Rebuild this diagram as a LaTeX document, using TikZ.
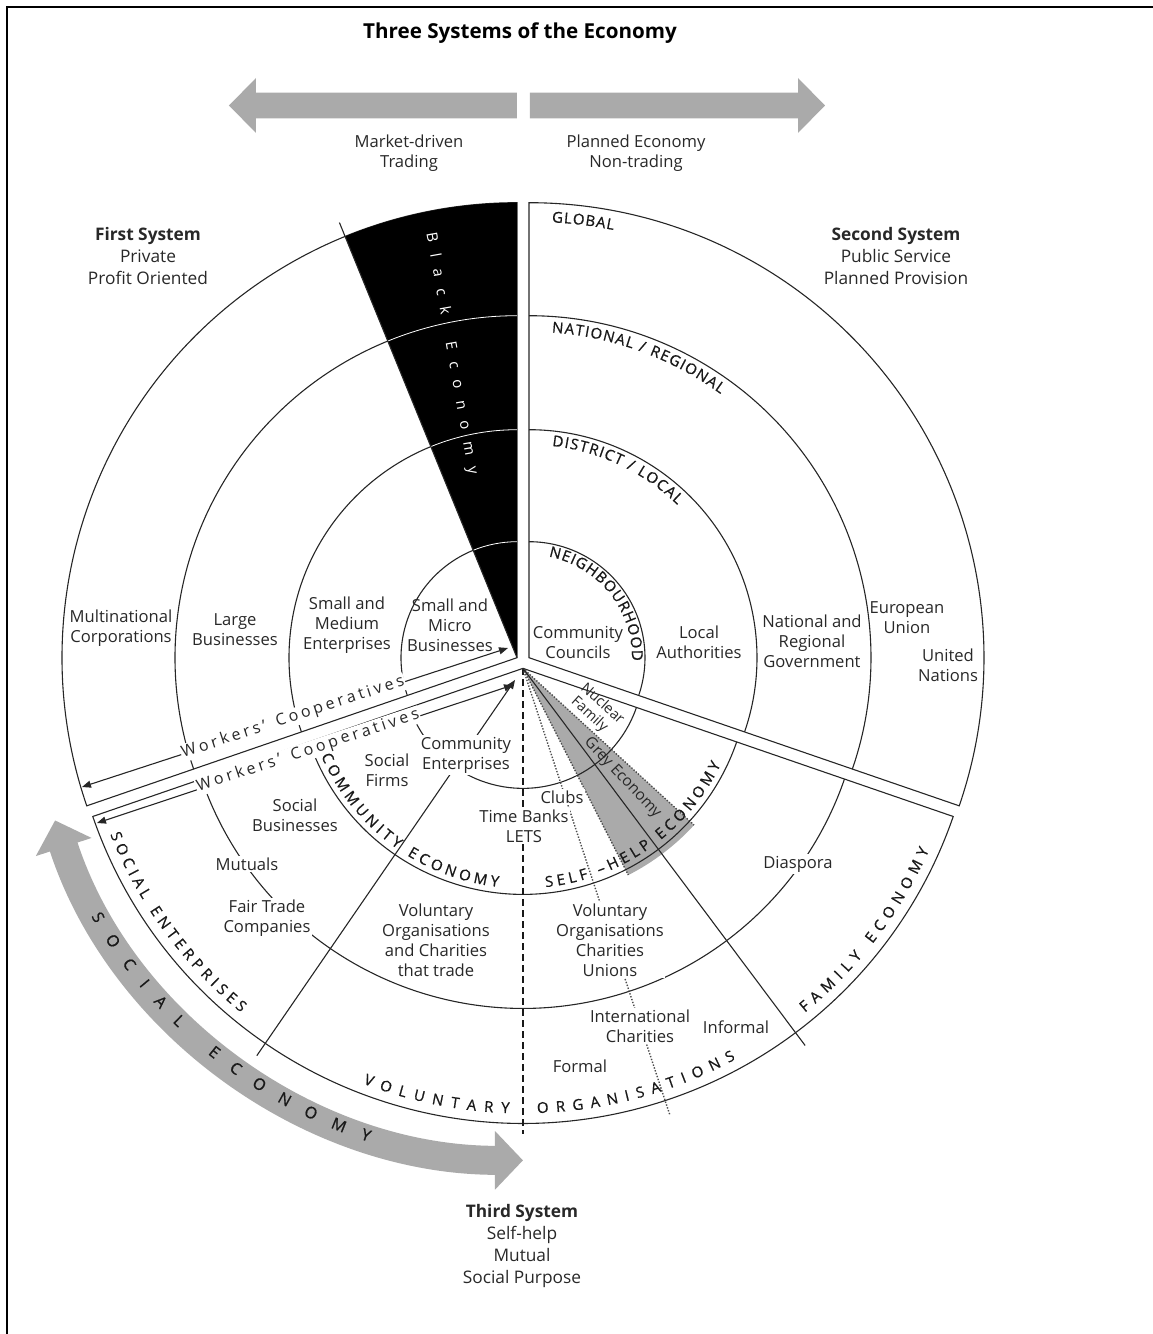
\documentclass[tikz,border=0pt]{standalone}
\usepackage{fontspec}
\setmainfont{Open Sans}
\usetikzlibrary{arrows.meta,calc}
\definecolor{ag}{RGB}{170,170,170}
\definecolor{txt}{RGB}{40,40,40}
\def\arcsize{15}
\def\arcfont{\fontsize{\arcsize}{\arcsize}\selectfont\addfontfeature{FakeBold=0.7}}
\def\spch{\relax}
\def\slch{/}
% curved letter-by-letter text: #1 centre, #2 baseline radius, #3 angle, #4 dir (1 ccw, -1 cw), #5 tracking, #6 align (0 start, 0.5 centre), #7 letter/width(em) list
\newcommand\arctext[7]{%
  \gdef\ctsum{0}%
  \foreach \ch/\cw in {#7}{%
    \pgfmathsetmacro\ctnew{\ctsum+\cw*\arcsize+#5}%
    \xdef\ctsum{\ctnew}%
  }%
  \pgfmathsetmacro\ctstart{#3-(#4)*#6*(\ctsum-#5)/#2*57.29578}%
  \gdef\ctpos{0}%
  \foreach \ch/\cw in {#7}{%
    \pgfmathsetmacro\ctang{\ctstart+(#4)*(\ctpos+0.5*\cw*\arcsize)/#2*57.29578}%
    \pgfmathsetmacro\ctrot{\ctang+(#4)*90}%
    \pgfmathsetmacro\ctnew{\ctpos+\cw*\arcsize+#5}%
    \xdef\ctpos{\ctnew}%
    \node[font=\arcfont,text=black!90,anchor=base,rotate=\ctrot,inner sep=0pt] at ($(#1)+(\ctang:#2pt)$) {\ch};
  }%
}
% straight tracked text
\def\trk#1{\def\trkamt{#1}\trkx}
\def\trkx#1{\ifx#1\relax\unkern\else#1\kern\trkamt\relax\expandafter\trkx\fi}
\tikzset{
  ln/.style={line width=1.1pt, draw=black!85},
  lab/.style={font=\fontsize{16.6}{20}\selectfont, align=center, text=txt, inner sep=1.5pt},
  labf/.style={lab, fill=white},
  hdr/.style={font=\fontsize{17.3}{21.7}\selectfont, align=center, text=txt},
  dotl/.style={line width=1.4pt, draw=black!70, dash pattern=on 1.4pt off 1.6pt},
  dashl/.style={line width=2.4pt, draw=black!90, dash pattern=on 7pt off 4pt},
  wkr/.style={font=\fontsize{16}{16}\selectfont, text=txt, fill=white, inner sep=1pt},
  rot/.style={font=\fontsize{14.5}{16.5}\selectfont, text=txt, inner sep=0.5pt},
}
\begin{document}
\begin{tikzpicture}[x=1pt,y=1pt]
\useasboundingbox (-523,-672) rectangle (630,662);
\draw[line width=2.2pt] (-516,-672) -- (-516,655) -- (630,655);

% title
\node[font=\fontsize{20.6}{24}\selectfont\bfseries] (title) at (-3,628.7) {Three Systems of the Economy};

% top arrows
\fill[ag] (-294,556.5) -- (-267,584) -- (-267,569.3) -- (-6,569.3) -- (-6,543.7) -- (-267,543.7) -- (-267,529) -- cycle;
\fill[ag] (302,556.5) -- (275,584) -- (275,569.3) -- (7,569.3) -- (7,543.7) -- (275,543.7) -- (275,529) -- cycle;
\node[lab] (mkt) at (-114,508.5) {Market-driven\\Trading};
\node[lab] (pln) at (113,508.5) {Planned Economy\\Non-trading};

% system headers
\node[hdr] (s1) at (-375,406) {\textbf{First System}\\Private\\Profit Oriented};
\node[hdr] (s2) at (373,406) {\textbf{Second System}\\Public Service\\Planned Provision};
\node[hdr] (s3) at (-1,-584) {\textbf{Third System}\\Self-help\\Mutual\\Social Purpose};

% sector apexes
\coordinate (A1) at (-6.0,4.3);
\coordinate (A2) at (6.0,4.3);
\coordinate (A3) at (0,-6.35);

% grey wedge (third sector)
\fill[ag] (A3) -- ($(A3)+(-63:232pt)$) arc[start angle=-63,end angle=-42.5,radius=232pt] -- cycle;
\draw[dotl] (A3) -- ($(A3)+(-63:232pt)$);
\draw[dotl] (A3) -- ($(A3)+(-42.5:232pt)$);

% sector 1
\draw[ln] (A1) -- ($(A1)+(90:455pt)$) arc[start angle=90,end angle=199,radius=455pt] -- cycle;
\foreach \r in {116,228,342} \draw[ln] ($(A1)+(90:\r pt)$) arc[start angle=90,end angle=199,radius=\r pt];
% black economy wedge
\fill[black] (A1) -- ($(A1)+(90:455pt)$) arc[start angle=90,end angle=112.2,radius=455pt] -- cycle;
\foreach \r in {116,228,342} \draw[white,line width=0.8pt] ($(A1)+(90:\r pt)$) arc[start angle=90,end angle=112.2,radius=\r pt];
\coordinate (bkend) at ($(A1)+(112.2:470pt)$);
\draw[ln] (A1) -- (bkend);
\node[font=\fontsize{15}{15}\selectfont, text=white, rotate=-80] (blk) at (-71.5,308.5) {\trk{11.7pt}Black\ Economy\relax};

% sector 2
\draw[ln] (A2) -- ($(A2)+(90:455pt)$) arc[start angle=90,end angle=-19,radius=455pt] -- cycle;
\foreach \r in {116,228,342} \draw[ln] ($(A2)+(90:\r pt)$) arc[start angle=90,end angle=-19,radius=\r pt];

% sector 3
\draw[ln] (A3) -- ($(A3)+(199:455pt)$) arc[start angle=199,end angle=341,radius=455pt] -- cycle;
\foreach \r in {120,226,340} \draw[ln] ($(A3)+(199:\r pt)$) arc[start angle=199,end angle=341,radius=\r pt];

% radial lines in sector 3
\coordinate (dashend) at ($(A3)+(270:466pt)$);
\coordinate (dotend) at ($(A3)+(-71.8:470pt)$);
\coordinate (solend) at ($(A3)+(-53.2:471pt)$);
\coordinate (ceout) at ($(A3)+(235.5:470pt)$);
\coordinate (cein) at ($(A3)+(235.5:14pt)$);
\draw[dashl] (A3) -- (dashend);
\draw[dotl] (A3) -- (dotend);
\draw[ln] (A3) -- (solend);
\draw[ln,-{Triangle[length=9pt,width=7pt]}] (ceout) -- (cein);

% workers' cooperatives arrows
\coordinate (w1a) at (-15,14);
\coordinate (w1b) at (-441,-125);
\coordinate (w2a) at (-10,-23);
\coordinate (w2b) at (-426,-161);
\draw[ln,{Triangle[length=9pt,width=7pt]}-{Triangle[length=9pt,width=7pt]}] (w1b) -- (w1a);
\draw[ln,{Triangle[length=9pt,width=7pt]}-{Triangle[length=9pt,width=7pt]}] (w2b) -- (w2a);
\node[wkr, rotate=18.1] (wk1) at (-230,-55.5) {\trk{3.3pt}Workers'\ Cooperatives\relax};
\node[wkr, rotate=18.35] (wk2) at (-215,-89) {\trk{3.3pt}Workers'\ Cooperatives\relax};

% social economy arrow
\draw[ag, line width=29pt, {Triangle[length=28pt,width=57pt]}-{Triangle[length=28pt,width=57pt]}] ($(A3)+(198:492pt)$) arc[start angle=198,end angle=270,radius=492pt];

% labels sector 1
\node[lab] (mnc) at (-402,34) {Multinational\\Corporations};
\node[lab] (lb) at (-288,32) {Large\\Businesses};
\node[lab] (sme) at (-176,37) {Small and\\Medium\\Enterprises};
\node[lab] (smb) at (-73,37) {Small and\\Micro\\Businesses};

% labels sector 2
\node[lab] (cc) at (55,20) {Community\\Councils};
\node[lab] (la) at (176,20) {Local\\Authorities};
\node[lab] (nrg) at (289,21) {National and\\Regional\\Government};
\node[lab] (eu) at (384,44) {European\\Union};
\node[lab] (un) at (425,-3) {United\\Nations};

% labels sector 3
\node[rot, rotate=-42] (nuc1) at (80.3,-41) {Nuclear};
\node[rot, rotate=-42] (nuc2) at (66.3,-52.5) {Family};
\node[font=\fontsize{15.5}{18}\selectfont, text=txt, rotate=-46.5] (grey) at (99.5,-116) {Grey Economy};
\node[labf] (clubs) at (39,-135) {Clubs};
\node[labf] (tb) at (1,-164) {Time Banks\\LETS};
\node[lab] (sf) at (-136,-108) {Social\\Firms};
\node[labf] (ce) at (-57,-93) {Community\\Enterprises};
\node[lab] (sb) at (-228,-153) {Social\\Businesses};
\node[labf] (mut) at (-276,-202) {Mutuals};
\node[labf] (ftc) at (-256,-256) {Fair Trade\\Companies};
\node[lab] (voc) at (-87,-278) {Voluntary\\Organisations\\and Charities\\that trade};
\node[labf] (vou) at (87,-278) {Voluntary\\Organisations\\Charities\\Unions};
\node[labf] (ic) at (117,-364) {International\\Charities};
\node[lab] (inf) at (213,-365) {Informal};
\node[lab] (frm) at (57,-404) {Formal};
\node[labf] (dia) at (275,-202) {Diaspora};

% curved texts, sector 2
\arctext{A2}{436}{87}{-1}{0.9}{0}{G/0.728,L/0.528,O/0.781,B/0.648,A/0.633,L/0.528}
\arctext{A2}{326}{86}{-1}{1.2}{0}{N/0.756,A/0.633,T/0.56,I/0.279,O/0.781,N/0.756,A/0.633,L/0.528,\spch/0.26,\slch/0.367,\spch/0.26,R/0.633,E/0.556,G/0.728,I/0.279,O/0.781,N/0.756,A/0.633,L/0.528}
\arctext{A2}{213}{83.8}{-1}{1.2}{0}{D/0.729,I/0.279,S/0.556,T/0.56,R/0.633,I/0.279,C/0.631,T/0.56,\spch/0.26,\slch/0.367,\spch/0.26,L/0.528,O/0.781,C/0.631,A/0.633,L/0.528}
\arctext{A2}{103}{79}{-1}{1.0}{0}{N/0.756,E/0.556,I/0.279,G/0.728,H/0.738,B/0.648,O/0.781,U/0.734,R/0.633,H/0.738,O/0.781,O/0.781,D/0.729}

% curved texts, sector 3
\arctext{A3}{220}{233.5}{1}{3.8}{0.5}{C/0.631,O/0.781,M/0.903,M/0.903,U/0.734,N/0.756,I/0.279,T/0.56,Y/0.566,\spch/0.26,E/0.556,C/0.631,O/0.781,N/0.756,O/0.781,M/0.903,Y/0.566}
\arctext{A3}{220}{305}{1}{3.8}{0.5}{S/0.556,E/0.556,L/0.528,F/0.516,\spch/0.26,–/0.5,H/0.738,E/0.556,L/0.528,P/0.613,\spch/0.26,E/0.556,C/0.631,O/0.781,N/0.756,O/0.781,M/0.903,Y/0.566}
\arctext{A3}{445}{216.3}{1}{4.4}{0.5}{S/0.556,O/0.781,C/0.631,I/0.279,A/0.633,L/0.528,\spch/0.26,E/0.556,N/0.756,T/0.56,E/0.556,R/0.633,P/0.613,R/0.633,I/0.279,S/0.556,E/0.556,S/0.556}
\arctext{A3}{445}{258.6}{1}{7.9}{0.5}{V/0.6,O/0.781,L/0.528,U/0.734,N/0.756,T/0.56,A/0.633,R/0.633,Y/0.566}
\arctext{A3}{445}{285.2}{1}{7.4}{0.5}{O/0.781,R/0.633,G/0.728,A/0.633,N/0.756,I/0.279,S/0.556,A/0.633,T/0.56,I/0.279,O/0.781,N/0.756,S/0.556}
\arctext{A3}{445}{-37.4}{1}{5.9}{0.5}{F/0.516,A/0.633,M/0.903,I/0.279,L/0.528,Y/0.566,\spch/0.26,E/0.556,C/0.631,O/0.781,N/0.756,O/0.781,M/0.903,Y/0.566}
\def\arcsize{16}
\arctext{A3}{498}{230.9}{1}{17.5}{0.5}{S/0.556,O/0.781,C/0.631,I/0.279,A/0.633,L/0.528,\spch/0.26,E/0.556,C/0.631,O/0.781,N/0.756,O/0.781,M/0.903,Y/0.566}
\end{tikzpicture}
\end{document}
